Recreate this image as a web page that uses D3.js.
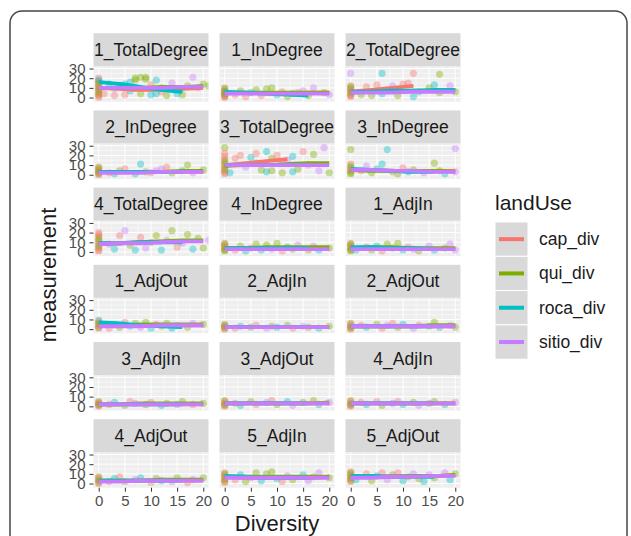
<!DOCTYPE html>
<html><head><meta charset="utf-8">
<script src="https://cdn.jsdelivr.net/npm/d3@7"></script>
<style>body{margin:0;background:#fff}svg{display:block;font-family:"Liberation Sans",Arial,sans-serif}</style>
</head><body><svg id="c" width="631" height="536"></svg>
<script>
const panels = ["1_TotalDegree","1_InDegree","2_TotalDegree","2_InDegree","3_TotalDegree","3_InDegree","4_TotalDegree","4_InDegree","1_AdjIn","1_AdjOut","2_AdjIn","2_AdjOut","3_AdjIn","3_AdjOut","4_AdjIn","4_AdjOut","5_AdjIn","5_AdjOut"];
const series = ["cap_div","qui_div","roca_div","sitio_div"];
const colors = ["#F8766D","#7CAE00","#00BFC4","#C77CFF"];
const xTicks = [0,5,10,15,20];
const yTicks = [0,10,20,30];
const smoothX = [0,4,8,12,16,20];
// smooth fits per panel (values at smoothX)
const smoothCap = [[10,9,8,8,9,10],[5,5,4,4,5,5],[6,8,10,12,null,null],[3,3,3,3,3,3],[10,12,14,16,null,null],[5,5,4,4,4,4],[8,9,10,11,null,null],[4,4,4,4,4,4],[4,4,4,3,3,3],[4,4,4,4,4,4],[2,2,2,2,2,2],[3,3,3,3,3,3],[2,2,2,2,2,2],[3,3,3,3,3,3],[3,3,3,3,3,3],[3,3,3,3,3,3],[7,6,6,6,6,7],[7,7,8,8,8,9]];
const smoothQui = [[10,10,10,11,11,12],[5,5,5,5,5,5],[5,6,6,7,7,8],[3,3,3,3,4,4],[9,10,10,11,12,12],[5,4,4,4,4,3],[9,9,10,11,12,12],[4,4,5,5,5,5],[4,5,5,4,4,4],[4,4,5,5,5,5],[2,2,2,2,2,2],[3,3,3,3,4,4],[2,2,3,3,3,3],[3,3,3,3,3,4],[3,3,3,3,3,3],[3,3,3,4,4,4],[7,7,7,7,7,7],[7,7,7,8,8,9]];
const smoothRoca = [[16,14,11,8,6,null],[6,5,4,3,2,null],[6,6,7,7,8,8],[3,3,3,3,3,null],[10,10,10,10,10,null],[6,5,4,3,3,null],[9,9,10,10,10,null],[4,4,4,4,4,null],[5,5,4,4,3,null],[7,6,4,3,2,null],[2,2,2,2,2,null],[3,3,3,3,3,null],[2,2,2,2,2,null],[3,3,3,3,3,null],[3,3,3,3,3,null],[3,3,3,3,3,null],[8,7,6,6,6,null],[8,8,7,7,7,null]];
const smoothSitio = [[10,10,10,10,11,11],[4,4,4,4,4,4],[5,5,5,6,6,6],[2,2,2,3,3,3],[10,10,10,10,10,10],[5,5,4,4,3,3],[8,9,9,10,11,11],[3,3,3,3,3,3],[3,3,3,3,3,3],[3,3,3,4,4,4],[2,2,2,2,2,2],[3,3,3,3,3,3],[2,2,2,2,2,2],[3,3,3,3,3,3],[3,3,3,3,3,3],[2,2,3,3,3,3],[6,6,6,6,6,6],[6,6,7,7,8,8]];
// observed points per panel: [diversity, measurement, series index]
const pointsByPanel = [
 [[0,20,0],[0,17,0],[0,14,0],[0,11,1],[0,8,0],[0,5,1],[0,2,0],[0,18,2],[0,15,1],[0,12,0],[0,9,1],[0,6,0],[0,3,1],[0,0,0],[1,4,0],[2,14,2],[3,2,0],[4,12,1],[5,3,0],[6,16,2],[7,20,1],[8,21,1],[8,4,1],[9,19,1],[10,13,0],[10,3,2],[11,18,2],[12,6,0],[13,2,1],[14,15,3],[15,4,2],[16,3,1],[17,12,1],[18,21,3],[19,10,0],[20,14,1],[21,12,1],[3,9,3],[6,7,2],[12,10,3],[7,18,1],[9,21,1],[11,4,2],[5,14,2]],
 [[0,10,0],[0,7,1],[0,4,0],[0,2,1],[0,1,0],[0,6,2],[0,9,1],[0,5,0],[0,3,1],[0,0,0],[2,3,0],[3,7,1],[4,1,0],[5,5,2],[6,8,1],[7,2,0],[8,9,1],[9,10,1],[10,3,2],[11,6,0],[12,1,1],[13,4,2],[15,7,3],[16,2,1],[17,10,3],[19,5,1],[20,3,3],[14,5,0]],
 [[0,25,3],[6,25,2],[12,25,0],[17,24,1],[0,12,0],[0,9,1],[0,6,0],[0,3,1],[0,1,0],[0,11,1],[0,8,0],[0,5,1],[0,2,0],[2,3,1],[3,11,0],[4,2,1],[5,13,0],[6,4,2],[7,8,3],[8,12,3],[9,2,1],[10,14,0],[11,15,0],[12,1,2],[13,6,2],[15,10,1],[16,13,2],[17,5,1],[19,12,3],[20,6,1]],
 [[0,8,0],[0,5,1],[0,3,0],[0,1,1],[0,7,1],[0,4,0],[0,2,1],[0,0,0],[2,2,0],[4,4,1],[5,6,0],[7,1,2],[8,11,2],[9,3,1],[10,2,0],[12,6,3],[13,8,0],[14,2,1],[16,4,2],[17,10,1],[18,2,3],[20,5,1],[11,4,3],[3,1,2]],
 [[0,28,1],[0,22,0],[0,16,0],[0,12,1],[0,8,0],[0,4,1],[0,1,0],[0,19,0],[0,14,1],[0,10,0],[0,6,1],[0,2,0],[1,2,2],[2,17,0],[3,20,0],[4,8,3],[5,18,2],[6,22,0],[7,5,1],[8,24,2],[8,3,2],[9,17,1],[10,20,0],[11,2,1],[12,15,3],[13,19,2],[14,6,1],[15,24,0],[16,10,3],[17,21,1],[18,4,3],[19,28,3],[20,2,1],[6,12,2],[11,12,0],[9,4,1],[13,3,2]],
 [[0,26,1],[7,26,2],[20,27,3],[0,11,0],[0,7,1],[0,4,0],[0,1,1],[0,9,1],[0,5,0],[0,2,1],[2,4,0],[3,9,3],[4,2,1],[5,6,2],[6,11,2],[8,3,1],[9,1,1],[10,7,0],[11,3,2],[12,5,1],[14,2,3],[16,12,1],[17,4,1],[18,1,2],[20,3,3]],
 [[0,20,0],[0,16,0],[0,12,1],[0,8,0],[0,4,1],[0,1,0],[0,18,0],[0,14,1],[0,10,0],[0,6,1],[0,2,0],[2,8,3],[3,3,2],[4,17,0],[5,22,3],[6,7,1],[7,2,2],[8,15,0],[9,4,3],[10,10,1],[11,17,1],[12,2,2],[13,12,3],[14,22,1],[15,5,0],[16,9,3],[17,18,1],[18,3,2],[19,14,1],[20,4,1],[21,12,3]],
 [[0,9,0],[0,6,1],[0,3,0],[0,1,1],[0,8,1],[0,5,0],[0,2,1],[2,2,0],[3,6,1],[4,1,2],[5,4,0],[6,8,1],[7,2,2],[8,7,1],[9,3,3],[10,9,1],[11,1,0],[12,5,2],[13,3,1],[14,7,3],[16,2,1],[17,6,3],[18,2,2],[20,4,1]],
 [[0,9,0],[0,6,1],[0,3,0],[0,1,1],[0,8,1],[0,5,0],[0,2,1],[1,2,2],[3,5,0],[4,2,1],[5,6,2],[6,1,0],[7,8,1],[8,4,1],[9,9,1],[10,2,2],[11,5,0],[12,3,3],[13,1,1],[15,6,3],[16,2,2],[18,4,1],[19,8,3],[20,2,3]],
 [[0,9,2],[0,6,1],[0,3,0],[0,1,1],[0,8,0],[0,5,1],[0,2,0],[2,1,0],[3,5,2],[4,2,1],[5,7,0],[6,3,2],[7,6,1],[8,2,3],[9,7,1],[10,1,2],[11,5,0],[12,3,1],[13,6,1],[14,1,2],[15,4,3],[17,2,1],[18,6,3],[20,5,1]],
 [[0,5,1],[0,3,0],[0,1,1],[0,4,0],[0,2,1],[0,0,0],[2,1,0],[3,3,2],[5,2,1],[6,4,0],[8,1,3],[9,3,1],[10,2,2],[12,4,1],[13,1,0],[15,3,3],[16,2,1],[18,1,2],[20,3,1]],
 [[0,6,1],[0,3,0],[0,1,1],[0,5,0],[0,2,1],[0,0,0],[2,4,0],[3,2,2],[5,5,1],[6,1,0],[7,4,3],[8,6,0],[9,2,1],[10,5,2],[12,1,3],[13,4,0],[15,3,1],[16,7,1],[17,2,2],[19,4,3],[20,2,1]],
 [[0,5,1],[0,3,0],[0,1,1],[0,4,0],[0,2,1],[0,0,0],[2,2,0],[3,4,2],[5,1,1],[6,5,0],[7,3,3],[9,2,1],[10,4,0],[12,1,2],[13,3,1],[15,2,3],[16,5,1],[18,2,0],[20,3,1]],
 [[0,6,1],[0,3,0],[0,1,1],[0,5,0],[0,2,1],[0,0,0],[2,3,0],[3,1,2],[5,5,1],[6,2,0],[8,4,3],[9,6,0],[10,2,1],[12,5,2],[13,1,3],[15,4,1],[17,6,1],[18,2,2],[20,4,3]],
 [[0,6,1],[0,3,0],[0,1,1],[0,5,0],[0,2,1],[0,0,0],[2,4,0],[3,2,2],[5,5,0],[6,1,1],[8,3,3],[9,5,0],[10,2,2],[12,4,1],[13,1,3],[15,3,0],[16,5,1],[18,2,2],[20,4,3]],
 [[0,7,1],[0,4,0],[0,1,1],[0,6,0],[0,3,1],[0,0,0],[2,2,0],[3,5,2],[4,7,0],[5,2,1],[7,4,3],[8,6,2],[10,1,0],[11,5,1],[12,3,2],[14,2,3],[15,6,1],[17,1,0],[18,4,3],[20,6,1]],
 [[0,11,0],[0,8,1],[0,5,0],[0,2,1],[0,10,1],[0,7,0],[0,4,1],[0,1,0],[2,4,0],[3,9,2],[4,2,1],[5,6,0],[6,11,1],[7,3,2],[8,10,1],[9,12,1],[10,5,2],[11,2,0],[12,8,3],[13,4,1],[15,9,2],[16,3,3],[17,7,1],[18,11,3],[20,6,1]],
 [[0,12,0],[0,9,1],[0,6,0],[0,3,1],[0,11,1],[0,8,0],[0,5,1],[0,2,0],[1,4,2],[3,10,0],[4,3,1],[5,8,2],[6,11,0],[7,4,3],[8,9,1],[9,11,0],[10,3,2],[11,7,1],[12,10,3],[13,5,1],[14,2,2],[15,9,3],[16,6,1],[18,11,3],[19,4,2],[20,10,1]]
];
const smoothAll = [smoothCap, smoothQui, smoothRoca, smoothSitio];

const svg = d3.select("#c");
svg.append("rect").attr("x",10).attr("y",11).attr("width",617).attr("height",600).attr("rx",12)
  .attr("fill","#fff").attr("stroke","#444").attr("stroke-width",1.5);

const colX = [93.5, 219.5, 345.5], pw = 115;
const stripH = 33, ph = 35.5, rowStep = 77.2, top0 = 33.2;
const x = d3.scaleLinear().domain([-1,21]).range([0,pw]);
const y = d3.scaleLinear().domain([-4.3,32.4]).range([ph,0]);
const line = d3.line().defined(d=>d[1]!=null).x(d=>x(d[0])).y(d=>y(d[1])).curve(d3.curveMonotoneX);

panels.forEach((name,i)=>{
  const r = Math.floor(i/3), c = i%3;
  const sx = colX[c], sy = top0 + r*rowStep, py = sy + stripH;
  const g = svg.append("g").attr("transform",`translate(${sx},${py})`);
  svg.append("rect").attr("x",sx).attr("y",sy).attr("width",pw).attr("height",stripH).attr("fill","#d9d9d9");
  svg.append("text").attr("x",sx+pw/2).attr("y",sy+stripH/2+6).attr("text-anchor","middle")
    .attr("font-size",17.5).attr("fill","#1a1a1a").text(name);
  g.append("rect").attr("width",pw).attr("height",ph).attr("fill","#eeeeee");
  const minorY=[-5,5,15,25], minorX=[2.5,7.5,12.5,17.5];
  minorY.forEach(v=>g.append("line").attr("x1",0).attr("x2",pw).attr("y1",y(v)).attr("y2",y(v)).attr("stroke","#fff").attr("stroke-width",0.5));
  minorX.forEach(v=>g.append("line").attr("y1",0).attr("y2",ph).attr("x1",x(v)).attr("x2",x(v)).attr("stroke","#fff").attr("stroke-width",0.5));
  yTicks.forEach(v=>g.append("line").attr("x1",0).attr("x2",pw).attr("y1",y(v)).attr("y2",y(v)).attr("stroke","#fff").attr("stroke-width",1));
  xTicks.forEach(v=>g.append("line").attr("y1",0).attr("y2",ph).attr("x1",x(v)).attr("x2",x(v)).attr("stroke","#fff").attr("stroke-width",1));
  const cid = "clip"+i;
  g.append("clipPath").attr("id",cid).append("rect").attr("width",pw).attr("height",ph);
  const pg = g.append("g").attr("clip-path",`url(#${cid})`);
  pg.selectAll("circle").data(pointsByPanel[i]).join("circle")
    .attr("cx",d=>x(d[0])).attr("cy",d=>y(d[1])).attr("r",3.6)
    .attr("fill",d=>colors[d[2]]).attr("fill-opacity",0.4);
  smoothAll.forEach((s,k)=>{
    const pts = smoothX.map((xv,j)=>[xv,s[i][j]]);
    pg.append("path").attr("d",line(pts)).attr("fill","none").attr("stroke",colors[k]).attr("stroke-width",3.8);
  });
  if (c===0){
    const ax = g.append("g").call(d3.axisLeft(y).tickValues(yTicks).tickSize(4).tickPadding(4));
    ax.select(".domain").remove();
    ax.selectAll("line").attr("stroke","#333");
    ax.selectAll("text").attr("font-size",15).attr("fill","#4d4d4d").attr("font-family","Liberation Sans, Arial, sans-serif");
  }
  if (r===5){
    const ax = g.append("g").attr("transform",`translate(0,${ph})`).call(d3.axisBottom(x).tickValues(xTicks).tickSize(4).tickPadding(4));
    ax.select(".domain").remove();
    ax.selectAll("line").attr("stroke","#333");
    ax.selectAll("text").attr("font-size",15).attr("fill","#4d4d4d").attr("font-family","Liberation Sans, Arial, sans-serif");
  }
});

svg.append("text").attr("transform","translate(48,275) rotate(-90)").attr("text-anchor","middle")
  .attr("dominant-baseline","central").attr("font-size",22).attr("fill","#1a1a1a").text("measurement");
svg.append("text").attr("x",277).attr("y",531).attr("text-anchor","middle")
  .attr("font-size",22).attr("fill","#1a1a1a").text("Diversity");

const lx = 495, ly = 222, kh = 34.3;
svg.append("text").attr("x",lx).attr("y",210).attr("font-size",21).attr("fill","#1a1a1a").text("landUse");
series.forEach((s,k)=>{
  svg.append("rect").attr("x",lx).attr("y",ly+k*kh).attr("width",33).attr("height",kh)
    .attr("fill","#d9d9d9").attr("stroke","#fff").attr("stroke-width",1);
  svg.append("line").attr("x1",lx+4).attr("x2",lx+29).attr("y1",ly+k*kh+kh/2).attr("y2",ly+k*kh+kh/2)
    .attr("stroke",colors[k]).attr("stroke-width",4);
  svg.append("text").attr("x",539).attr("y",ly+k*kh+kh/2).attr("dominant-baseline","central")
    .attr("font-size",17.5).attr("fill","#1a1a1a").text(s);
});
</script></body></html>
